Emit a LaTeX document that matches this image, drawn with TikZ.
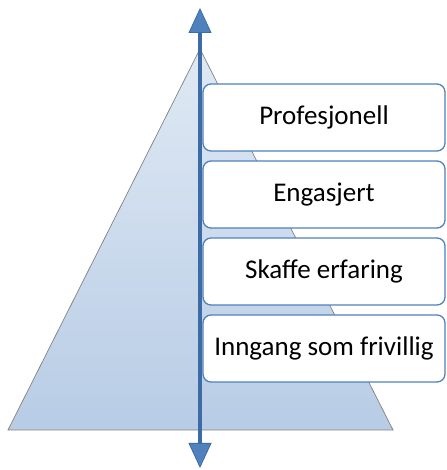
\documentclass[tikz,border=0pt]{standalone}
\usepackage{fontspec}
\setmainfont{Carlito}
\usepackage{tikz}
\usetikzlibrary{arrows.meta,positioning}

\definecolor{stepblue}{RGB}{79,129,189}
\definecolor{arrowline}{RGB}{60,107,165}
\definecolor{pyrtop}{RGB}{224,233,244}
\definecolor{pyrbot}{RGB}{183,204,229}

\tikzset{
  stage/.style={draw=stepblue, line width=1.3pt, fill=white, rounded corners=8pt,
    minimum width=242pt, minimum height=67pt, inner sep=0pt,
    font=\fontsize{27}{32}\selectfont},
  axis/.style={draw=arrowline, line width=4.5pt,
    {Triangle[length=25pt, width=23pt, line width=0.8pt, fill=stepblue]}-{Triangle[length=25pt, width=23pt, line width=0.8pt, fill=stepblue]}}
}

\begin{document}
\begin{tikzpicture}[x=1pt, y=1pt, node distance = 77pt]
      \useasboundingbox (0,0) rectangle (446,470);
      % pyramid
      \coordinate (apex) at (200,421);
      \coordinate (bl) at (8,40);
      \coordinate (br) at (393,40);
      \shade[top color=pyrtop, bottom color=pyrbot] (apex) -- (br) -- (bl) -- cycle;
      \draw[gray, line width=0.7pt] (apex) -- (br) -- (bl) -- cycle;

      \node[stage] (Prof) at (324,352.5) {Profesjonell};
      \node[stage] (Eng) [below of=Prof] {Engasjert};
      \node[stage] (Skaffe) [below of=Eng] {Skaffe erfaring};
      \node[stage] (Inngang) [below of=Skaffe] {Inngang som frivillig};

      \coordinate (top) at (200,462);
      \coordinate (bot) at (200,2);
      \draw[axis] (bot) -- (top);
\end{tikzpicture}
\end{document}
